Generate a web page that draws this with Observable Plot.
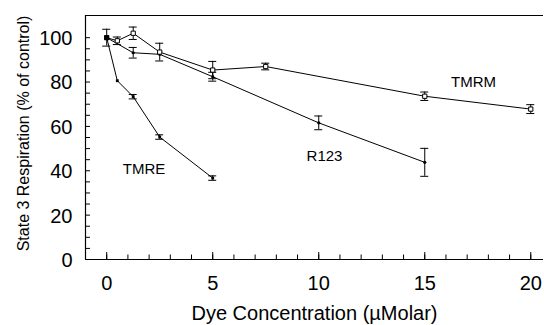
<!DOCTYPE html>
<html>
<head>
<meta charset="utf-8">
<script src="https://cdn.jsdelivr.net/npm/d3@7"></script>
<script src="https://cdn.jsdelivr.net/npm/@observablehq/plot@0.6"></script>
<style>
  html, body { margin: 0; padding: 0; background: #fff; }
  #chart svg { font-family: "Liberation Sans", Arial, Helvetica, sans-serif; }
</style>
</head>
<body>
<div id="chart"></div>
<script>
// ---- data ----
const tmreX = [0, 0.5, 1.25, 2.5, 5];
const tmreY = [100, 80.6, 73.4, 55.2, 36.7];
const tmreErr = [0, 0, 1, 1, 1];

const tmrmX = [0, 0.5, 1.25, 2.5, 5, 7.5, 15, 20];
const tmrmY = [100, 98.6, 102, 93.5, 85.4, 87, 73.6, 67.8];
const tmrmErr = [3.8, 1.7, 2.8, 4, 3.9, 1.5, 1.9, 2];

const r123X = [0, 1.25, 2.5, 5, 10, 15];
const r123Y = [100, 93.2, 92.5, 82.4, 61.6, 43.8];
const r123Err = [0, 2.4, 0, 2, 3.1, 6.3];

const seriesNames = ["TMRE", "TMRM", "R123"];
const labelX = [1.76, 17.3, 10.27];
const labelY = [40.9, 80, 46.8];

const xMajorTicks = [0, 5, 10, 15, 20];
const xMinorTicks = d3.range(0, 21, 1);
const yLabelTicks = [0, 20, 40, 60, 80, 100];
const yMinorTicks = d3.range(0, 101, 5);

const xTitle = "Dye Concentration (\u00b5Molar)";
const yTitle = "State 3 Respiration (% of control)";

// ---- build tables ----
const mk = (xs, ys, es, s) => xs.map((x, i) => ({x, y: ys[i], e: es[i], s}));
const tmre = mk(tmreX, tmreY, tmreErr, "TMRE");
const tmrm = mk(tmrmX, tmrmY, tmrmErr, "TMRM");
const r123 = mk(r123X, r123Y, r123Err, "R123");
const errs = [...tmre, ...tmrm, ...r123].filter(d => d.e > 0);
const labels = seriesNames.map((n, i) => ({n, x: labelX[i], y: labelY[i]}));

const chart = Plot.plot({
  width: 544,
  height: 325,
  marginLeft: 85,
  marginRight: 1,
  marginTop: 15,
  marginBottom: 66,
  x: {domain: [-1, 20.6]},
  y: {domain: [0, 110]},
  style: {fontFamily: '"Liberation Sans", Arial, Helvetica, sans-serif', color: "#000", background: "#fff"},
  marks: [
    // frame lines
    Plot.ruleX([-1], {stroke: "#000", strokeWidth: 1.2}),
    Plot.ruleY([0], {stroke: "#000", strokeWidth: 1.2}),
    Plot.ruleY([110], {stroke: "#000", strokeWidth: 1.2}),
    // inward ticks
    Plot.axisY({ticks: yMinorTicks, tickSize: 5, dx: 5, tickFormat: () => "", label: null, stroke: "#000"}),
    Plot.axisX({ticks: xMinorTicks, tickSize: 4.5, dy: -4.5, tickFormat: () => "", label: null, stroke: "#000"}),
    Plot.axisX({ticks: xMajorTicks, tickSize: 7, dy: -7, tickFormat: () => "", label: null, stroke: "#000"}),
    // tick labels
    Plot.axisY({ticks: yLabelTicks, tickSize: 0, tickPadding: 13, dy: 1, fontSize: 20, label: null}),
    Plot.axisX({ticks: xMajorTicks, tickSize: 0, tickPadding: 16, fontSize: 20, label: null}),
    // titles
    Plot.text([xTitle], {frameAnchor: "bottom", lineAnchor: "middle", dy: 54, fontSize: 20, fill: "#000"}),
    Plot.text([yTitle], {frameAnchor: "left", textAnchor: "middle", lineAnchor: "middle", dx: -62, dy: -4, rotate: -90, fontSize: 16, fill: "#000"}),
    // lines
    Plot.line(tmre, {x: "x", y: "y", stroke: "#000", strokeWidth: 1}),
    Plot.line(tmrm, {x: "x", y: "y", stroke: "#000", strokeWidth: 1}),
    Plot.line(r123, {x: "x", y: "y", stroke: "#000", strokeWidth: 1}),
    // error bars
    Plot.ruleX(errs, {x: "x", y1: d => d.y - d.e, y2: d => d.y + d.e, stroke: "#000", strokeWidth: 1}),
    Plot.ruleY(errs, {y: d => d.y + d.e, x1: "x", x2: "x", insetLeft: -4, insetRight: -4, stroke: "#000", strokeWidth: 1}),
    Plot.ruleY(errs, {y: d => d.y - d.e, x1: "x", x2: "x", insetLeft: -4, insetRight: -4, stroke: "#000", strokeWidth: 1}),
    // markers
    Plot.dot(tmre, {x: "x", y: "y", r: 1.6, fill: "#000", symbol: "square"}),
    Plot.dot(r123, {x: "x", y: "y", r: 1.6, fill: "#000"}),
    Plot.dot(tmrm, {x: "x", y: "y", r: 2.4, fill: "#fff", stroke: "#000", strokeWidth: 1, symbol: "square"}),
    Plot.dot(tmre.slice(0, 1), {x: "x", y: "y", r: 2.6, fill: "#000", symbol: "square"}),
    // series labels
    Plot.text(labels, {x: "x", y: "y", text: "n", fontSize: 15, fill: "#000"})
  ]
});
document.getElementById("chart").append(chart);
</script>
</body>
</html>
